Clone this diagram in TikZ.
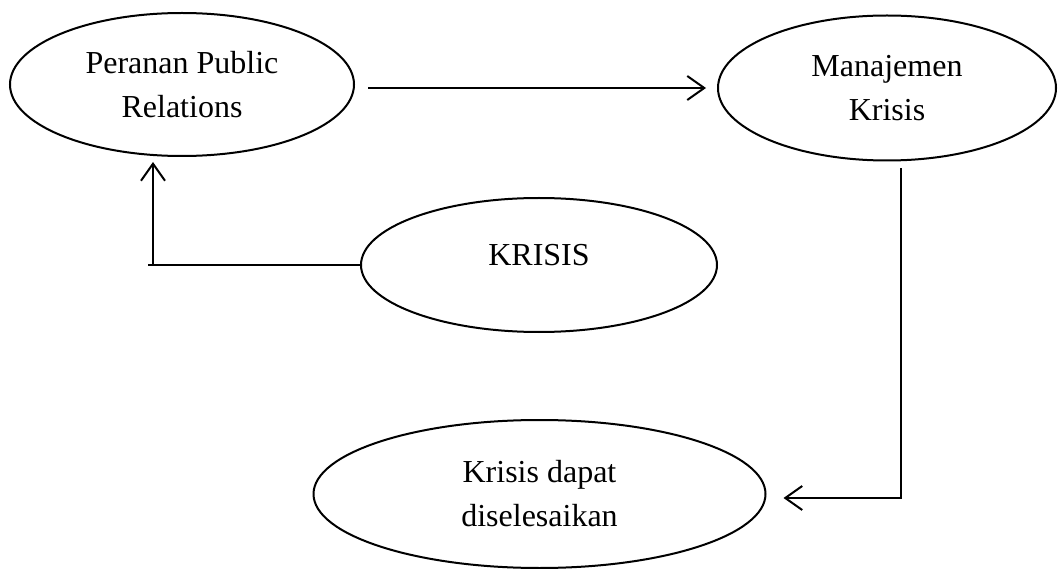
\documentclass[tikz,border=0pt]{standalone}
\usepackage{fontspec}
\setmainfont{Liberation Serif}
\usetikzlibrary{shapes.geometric,arrows.meta}
\begin{document}
\begin{tikzpicture}[x=1pt,y=-1pt,
  ell/.style={draw=black,ellipse,line width=2pt,inner sep=0pt,align=center,
    font=\fontsize{32}{44}\selectfont},
  conn/.style={line width=2pt,draw=black},
  arr/.style={conn,-{Straight Barb[length=17pt,width=24pt,line width=2pt]}}]
\useasboundingbox (0,0) rectangle (1060,569);
\node[ell,minimum width=344pt,minimum height=143pt] (pr) at (182,84.5) {Peranan Public\\Relations};
\node[ell,minimum width=338pt,minimum height=145pt] (mk) at (887,88) {Manajemen\\Krisis};
\node[ell,minimum width=356pt,minimum height=134pt] (kr) at (539,265) {\raisebox{20pt}{KRISIS}};
\node[ell,minimum width=452pt,minimum height=148pt] (kd) at (539.5,494) {Krisis dapat\\diselesaikan};
\coordinate (c1) at (153,265);
\coordinate (c3) at (901,498);
\draw[arr,shorten <=13pt,shorten >=11pt] (pr.east |- mk.west) -- (mk.west);
\draw[conn] (kr.west) -- ([xshift=-5pt]c1);
\draw[arr] (c1) -- ([yshift=-5pt]c1 |- pr.south);
\draw[arr] ([yshift=-7pt]c3 |- mk.south) -- (c3) -- ([xshift=17pt]kd.east |- c3);
\end{tikzpicture}
\end{document}
